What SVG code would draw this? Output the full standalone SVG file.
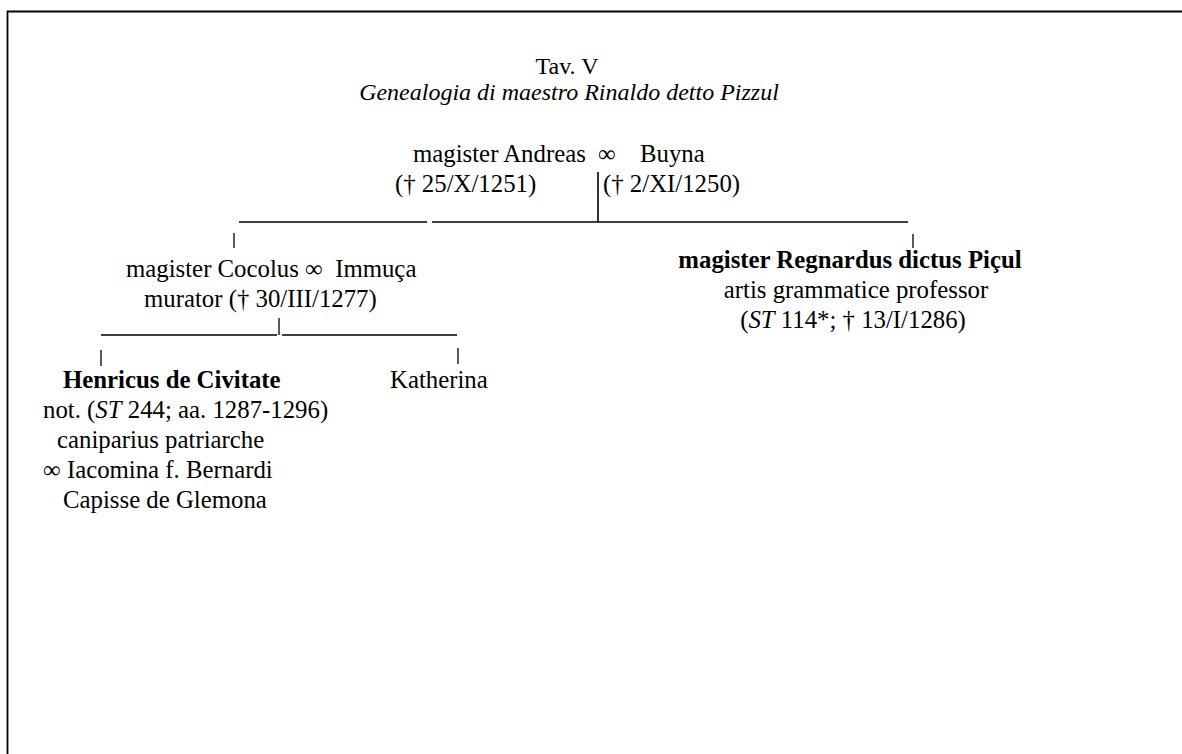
<svg xmlns="http://www.w3.org/2000/svg" width="1182" height="754" viewBox="0 0 1182 754">
<style>
text{font-family:"Liberation Serif","Times New Roman",serif;font-size:24.8px;fill:#000}
.t{font-size:24px}
.b{font-weight:bold}
.i{font-style:italic}
.c{text-anchor:middle}
.ln{stroke:#000;stroke-width:1.3;fill:none}
.frame{stroke:#000;stroke-width:1.8;fill:none}
</style>
<rect width="1182" height="754" fill="#fff"/>
<path class="frame" d="M7.5,760 V11.5 H1190"/>
<g id="title">
<text class="c t" x="567" y="73.5">Tav. V</text>
<text class="c i t" x="569" y="100">Genealogia di maestro Rinaldo detto Pizzul</text>
</g>
<g id="connectors">
<line class="ln" x1="598" y1="172" x2="598" y2="222" style="stroke-width:1.6"/>
<line class="ln" x1="239" y1="222" x2="427" y2="222"/>
<line class="ln" x1="432" y1="222" x2="908" y2="222"/>
<line class="ln" x1="234" y1="233" x2="234" y2="248"/>
<line class="ln" x1="913" y1="234" x2="913" y2="248"/>
<line class="ln" x1="101" y1="335" x2="277" y2="335"/>
<line class="ln" x1="279" y1="318" x2="279" y2="335"/>
<line class="ln" x1="282" y1="335" x2="457" y2="335"/>
<line class="ln" x1="101" y1="350" x2="101" y2="366"/>
<line class="ln" x1="458" y1="348" x2="458" y2="364"/>
</g>
<g id="andreas-buyna">
<text x="413" y="162">magister Andreas</text>
<text x="598" y="162">∞</text>
<text x="640" y="162">Buyna</text>
<text x="395" y="192">(† 25/X/1251)</text>
<text x="603" y="192">(† 2/XI/1250)</text>
</g>
<g id="cocolus-immuca">
<text x="126" y="277">magister Cocolus ∞&#160; Immuça</text>
<text x="144" y="307">murator († 30/III/1277)</text>
</g>
<g id="regnardus">
<text class="c b" x="850" y="268">magister Regnardus dictus Piçul</text>
<text class="c" x="856" y="298">artis grammatice professor</text>
<text class="c" x="853" y="328">(<tspan class="i">ST</tspan> 114*; † 13/I/1286)</text>
</g>
<g id="henricus">
<text class="b" x="63" y="388">Henricus de Civitate</text>
<text x="43" y="418">not. (<tspan class="i">ST</tspan> 244; aa. 1287-1296)</text>
<text x="57" y="448">caniparius patriarche</text>
<text x="43" y="478">∞ Iacomina f. Bernardi</text>
<text x="63" y="508">Capisse de Glemona</text>
</g>
<g id="katherina">
<text x="390" y="388">Katherina</text>
</g>
</svg>
